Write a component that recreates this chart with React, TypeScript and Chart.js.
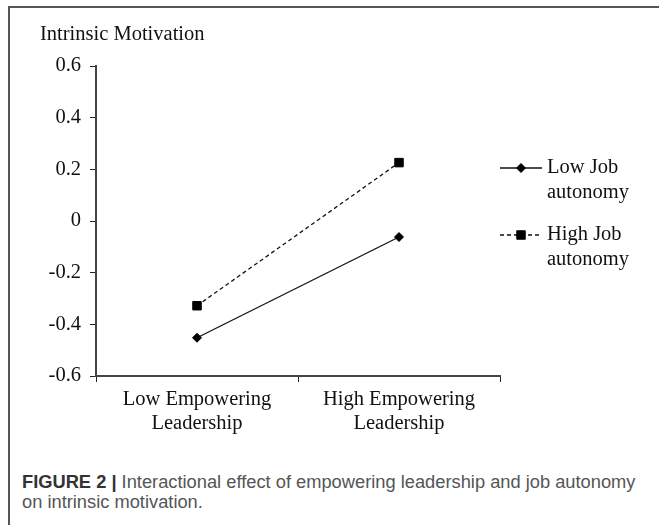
import React, { useEffect, useRef } from "react";
import { Chart, registerables } from "chart.js";

Chart.register(...registerables);

const categories: string[][] = [
  ["Low Empowering", "Leadership"],
  ["High Empowering", "Leadership"],
];
const lowJobAutonomy: number[] = [-0.452, -0.062];
const highJobAutonomy: number[] = [-0.328, 0.226];
const seriesNames: string[][] = [
  ["Low Job", "autonomy"],
  ["High Job", "autonomy"],
];
const yMin = -0.6;
const yMax = 0.6;
const yStep = 0.2;

const SERIF = "'Liberation Serif', 'Times New Roman', serif";
const FS = 20.5;

function drawMarker(ctx: CanvasRenderingContext2D, style: string, r: number, x: number, y: number) {
  ctx.beginPath();
  if (style === "rectRot") {
    ctx.moveTo(x - r, y);
    ctx.lineTo(x, y - r);
    ctx.lineTo(x + r, y);
    ctx.lineTo(x, y + r);
    ctx.closePath();
  } else {
    const s = r * Math.SQRT1_2;
    ctx.rect(x - s, y - s, 2 * s, 2 * s);
  }
  ctx.fill();
  ctx.stroke();
}

const legendPlugin = {
  id: "sideLegend",
  afterDraw(chart: any) {
    const ctx = chart.ctx;
    const x0 = 500;
    const x1 = 542;
    const tx = 547;
    const rows = [168, 235];
    ctx.save();
    chart.data.datasets.forEach((ds: any, i: number) => {
      const y = rows[i];
      ctx.strokeStyle = ds.borderColor;
      ctx.lineWidth = ds.borderWidth;
      ctx.setLineDash(ds.borderDash || []);
      ctx.beginPath();
      ctx.moveTo(x0, y);
      ctx.lineTo(x1, y);
      ctx.stroke();
      ctx.setLineDash([]);
      ctx.fillStyle = ds.pointBackgroundColor;
      ctx.strokeStyle = ds.pointBorderColor;
      ctx.lineWidth = 1;
      drawMarker(ctx, ds.pointStyle, ds.pointRadius, (x0 + x1) / 2, y);
      ctx.fillStyle = "#111";
      ctx.font = `${FS}px ${SERIF}`;
      ctx.textBaseline = "middle";
      ctx.textAlign = "left";
      seriesNames[i].forEach((line, j) => {
        ctx.fillText(line, tx, y + j * 25);
      });
    });
    ctx.restore();
  },
};

export default function App() {
  const ref = useRef<HTMLCanvasElement | null>(null);
  useEffect(() => {
    if (!ref.current) return;
    const chart = new Chart(ref.current, {
      type: "line",
      data: {
        labels: categories as any,
        datasets: [
          {
            label: "Low Job autonomy",
            data: lowJobAutonomy,
            borderColor: "#111",
            borderWidth: 1.3,
            pointStyle: "rectRot",
            pointRadius: 4.5,
            pointBackgroundColor: "#000",
            pointBorderColor: "#000",
            pointBorderWidth: 1,
            tension: 0,
          },
          {
            label: "High Job autonomy",
            data: highJobAutonomy,
            borderColor: "#111",
            borderWidth: 1.3,
            borderDash: [4, 3],
            pointStyle: "rect",
            pointRadius: 6,
            pointBackgroundColor: "#000",
            pointBorderColor: "#000",
            pointBorderWidth: 1,
            tension: 0,
          },
        ],
      },
      options: {
        animation: false,
        responsive: false,
        maintainAspectRatio: false,
        layout: { padding: { left: 0, top: 66, right: 159, bottom: 0 } },
        plugins: { legend: { display: false }, tooltip: { enabled: false } },
        scales: {
          x: {
            offset: true,
            grid: {
              offset: true,
              drawOnChartArea: false,
              drawTicks: true,
              tickLength: 6,
              color: "#222",
            },
            border: { color: "#444", width: 2 },
            ticks: {
              color: "#111",
              font: { family: SERIF, size: FS, lineHeight: 1.2 },
              padding: 5,
              maxRotation: 0,
            },
            afterFit: (s: any) => {
              s.height = 64;
            },
          },
          y: {
            min: yMin,
            max: yMax,
            grid: {
              drawOnChartArea: false,
              drawTicks: true,
              tickLength: 6,
              color: "#222",
            },
            border: { color: "#444", width: 2 },
            ticks: {
              stepSize: yStep,
              color: "#111",
              font: { family: SERIF, size: FS },
              padding: 9,
              callback: (v: any) => String(Math.round(Number(v) * 10) / 10),
            },
            afterFit: (s: any) => {
              s.width = 96;
            },
          },
        },
      },
      plugins: [legendPlugin],
    });
    return () => chart.destroy();
  }, []);

  return (
    <div style={{ position: "absolute", left: 0, top: 0, width: 659, height: 525, background: "#fff", overflow: "hidden" }}>
      <div
        style={{
          position: "absolute",
          left: 8,
          top: 6,
          width: 651,
          height: 519,
          borderTop: "2px solid #555",
          borderLeft: "2px solid #555",
        }}
      />
      <canvas ref={ref} width={659} height={440} style={{ position: "absolute", left: 0, top: 0, width: 659, height: 440 }} />
      <div
        style={{
          position: "absolute",
          left: 40,
          top: 21,
          fontFamily: SERIF,
          fontSize: FS,
          color: "#111",
          lineHeight: "24px",
          whiteSpace: "nowrap",
        }}
      >
        Intrinsic Motivation
      </div>
      <div
        style={{
          position: "absolute",
          left: 22,
          top: 472,
          width: 630,
          fontFamily: "'Liberation Sans', Arial, sans-serif",
          fontSize: 18.3,
          lineHeight: "20px",
          color: "#555",
          whiteSpace: "nowrap",
        }}
      >
        <span style={{ fontWeight: "bold", color: "#333" }}>FIGURE 2 | </span>
        Interactional effect of empowering leadership and job autonomy
        <br />
        on intrinsic motivation.
      </div>
    </div>
  );
}
